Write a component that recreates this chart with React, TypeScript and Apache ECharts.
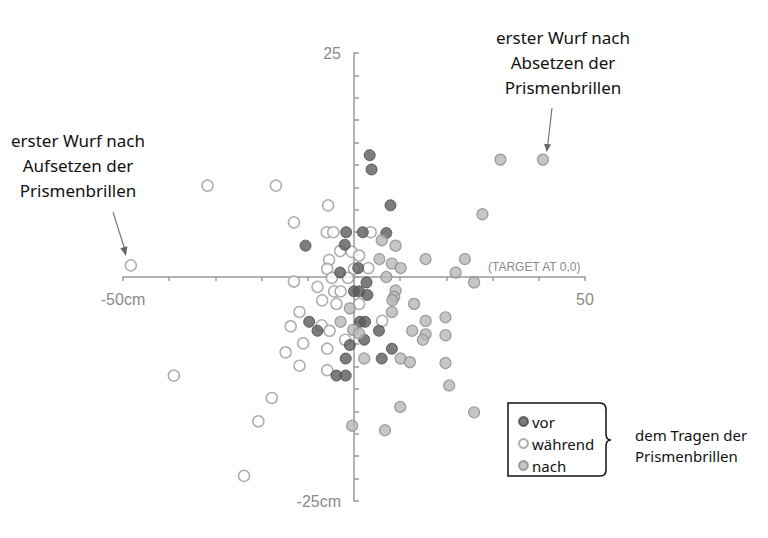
import React, { useEffect, useRef } from "react";
import * as echarts from "echarts";

// Data (x in cm, y in cm), target at 0,0
const vorData: [number, number][] = [
  [-10.5, 3.5], [-1.7, 5.0], [1.9, 5.0], [7.0, 4.9], [3.4, 13.6], [3.8, 12.0],
  [7.9, 8.0], [-2.0, 3.6], [0.9, 1.0], [-3.0, 0.5], [2.7, -0.6], [0.0, -1.6],
  [1.1, -1.6], [2.9, -2.0], [-9.7, -5.0], [1.3, -5.0], [2.4, -5.0], [-7.9, -6.0],
  [5.4, -6.0], [2.2, -7.0], [-0.9, -7.6], [-1.8, -9.1], [6.0, -9.1], [8.2, -8.0],
  [-3.8, -11.0], [-1.8, -11.0],
];

const waehrendData: [number, number][] = [
  [-48.3, 1.3], [-31.7, 10.2], [-16.9, 10.2], [-5.6, 8.0], [-13.0, 6.1],
  [-5.9, 5.0], [-4.5, 5.0], [3.6, 5.0], [-3.0, 2.9], [-0.5, 2.8], [1.1, 2.4],
  [-5.4, 1.9], [-5.8, 0.9], [0.0, 0.9], [3.1, 1.0], [-13.0, -0.5], [-4.8, -0.1],
  [-1.3, -0.1], [-7.9, -1.1], [-4.3, -1.6], [-2.9, -1.6], [-6.9, -2.6],
  [-3.8, -3.0], [1.1, -3.0], [-11.8, -3.9], [-13.7, -5.5], [-7.0, -5.4],
  [6.1, -4.9], [-5.3, -6.0], [-1.9, -7.0], [-11.0, -7.4], [-14.8, -8.4],
  [-5.8, -8.0], [-11.8, -9.9], [-5.8, -10.4], [-39.0, -11.0], [-17.8, -13.5],
  [-20.7, -16.1], [-23.8, -22.2],
];

const nachData: [number, number][] = [
  [31.7, 13.1], [40.9, 13.1], [27.8, 7.0], [6.0, 4.1], [9.0, 3.5], [5.5, 2.0],
  [8.2, 1.5], [10.1, 1.0], [15.5, 2.0], [24.0, 2.0], [22.0, 0.5], [26.0, -0.6],
  [7.0, 0.0], [9.0, -1.5], [8.7, -2.2], [8.3, -2.6], [13.0, -3.0], [-0.9, -3.5],
  [8.2, -3.9], [-2.9, -5.0], [-0.2, -5.9], [1.1, -6.3], [12.6, -6.0], [15.5, -4.9],
  [19.8, -4.5], [15.5, -6.4], [14.9, -7.0], [19.8, -6.5], [2.2, -9.1], [10.1, -9.1],
  [12.1, -9.5], [19.8, -9.6], [20.6, -12.1], [10.0, -14.5], [26.0, -15.1],
  [-0.4, -16.6], [6.7, -17.1],
];

const seriesNames = ["vor", "während", "nach"];
const xTickValues = [-50, 50];
const xTickLabels = ["-50cm", "50"];
const yTickValues = [25, -25];
const yTickLabels = ["25", "-25cm"];

const leftNote = ["erster Wurf nach", "Aufsetzen der", "Prismenbrillen"];
const rightNote = ["erster Wurf nach", "Absetzen der", "Prismenbrillen"];
const legendNote = ["dem Tragen der", "Prismenbrillen"];
const targetLabel = "(TARGET AT 0,0)";

const bracePath =
  "M 508 403 L 600 403 Q 606 403 606 410 L 606 434 Q 606 440 611 440 Q 606 440 606 446 L 606 470 Q 606 476 600 476 L 508 476 Z";

let registered = false;

export default function App() {
  const ref = useRef<HTMLDivElement>(null);
  useEffect(() => {
    if (!ref.current) return;
    if (!registered) {
      echarts.graphic.registerShape("brace", echarts.graphic.extendPath(bracePath, {}) as any);
      registered = true;
    }
    const chart = echarts.init(ref.current, null, { renderer: "svg" });
    const axisColor = "#9a9a9a";
    const font = "'Noto Sans', sans-serif";
    const labelFont = "'Liberation Sans', Arial, sans-serif";
    const noteStyle = { fontSize: 17, fontFamily: font, fill: "#111", align: "center" as const, lineHeight: 25 };
    chart.setOption({
      animation: false,
      grid: { left: 123, right: 183, top: 53, bottom: 37, containLabel: false },
      xAxis: {
        type: "value", min: -50, max: 50, interval: 10,
        splitLine: { show: false },
        axisLine: { onZero: true, lineStyle: { color: axisColor, width: 1.5 } },
        axisTick: { show: true, length: 4, lineStyle: { color: axisColor, width: 1.5 } },
        axisLabel: { show: false },
      },
      yAxis: {
        type: "value", min: -25, max: 25, interval: 2.5,
        splitLine: { show: false },
        axisLine: { onZero: true, lineStyle: { color: axisColor, width: 1.5 } },
        axisTick: { show: true, inside: true, length: 5, lineStyle: { color: axisColor, width: 1.5 } },
        axisLabel: { show: false },
      },
      legend: {
        orient: "vertical", left: 513, top: 409, itemWidth: 9, itemHeight: 9, itemGap: 7,
        icon: "circle",
        textStyle: { fontSize: 15, color: "#111", fontFamily: font, padding: [0, 0, 0, -1] },
        data: seriesNames,
      },
      series: [
        {
          name: seriesNames[1], type: "scatter", data: waehrendData, symbolSize: 11,
          itemStyle: { color: "#ffffff", borderColor: "#9a9a9a", borderWidth: 1.5 },
        },
        {
          name: seriesNames[0], type: "scatter", data: vorData, symbolSize: 11,
          itemStyle: { color: "#5b5b5b", borderColor: "#4a4a4a", borderWidth: 1 },
        },
        {
          name: seriesNames[2], type: "scatter", data: nachData, symbolSize: 11,
          itemStyle: { color: "#b8b8b8", borderColor: "#8c8c8c", borderWidth: 1.2 },
        },
      ],
    });

    // axis end labels positioned from the library's own scales
    const tickTexts: any[] = [];
    xTickValues.forEach((v, i) => {
      const p = chart.convertToPixel({ gridIndex: 0 }, [v, 0]) as number[];
      tickTexts.push({
        type: "text", x: p[0], y: p[1] + 14,
        style: { text: xTickLabels[i], fontSize: 16, fill: "#8a8a8a", fontFamily: labelFont, align: "center", verticalAlign: "top" },
      });
    });
    yTickValues.forEach((v, i) => {
      const p = chart.convertToPixel({ gridIndex: 0 }, [0, v]) as number[];
      tickTexts.push({
        type: "text", x: p[0] - 13, y: p[1],
        style: { text: yTickLabels[i], fontSize: 16, fill: "#8a8a8a", fontFamily: labelFont, align: "right", verticalAlign: "middle" },
      });
    });
    const origin = chart.convertToPixel({ gridIndex: 0 }, [0, 0]) as number[];

    chart.setOption({
      graphic: [
        ...tickTexts,
        { type: "text", x: 488, y: origin[1] - 10, style: { text: targetLabel, fontSize: 12, fill: "#8a8a8a", fontFamily: labelFont, verticalAlign: "middle" } },
        { type: "text", x: 78, y: 128, style: { ...noteStyle, text: leftNote.join("\n") } },
        { type: "text", x: 563, y: 25, style: { ...noteStyle, text: rightNote.join("\n") } },
        { type: "text", x: 635, y: 424, style: { fontSize: 15, fontFamily: font, fill: "#111", lineHeight: 21, text: legendNote.join("\n") } },
        { type: "line", shape: { x1: 113, y1: 212, x2: 125, y2: 250 }, style: { stroke: "#777", lineWidth: 1.2 } },
        { type: "polygon", shape: { points: [[126, 256], [127.4, 246.3], [120.4, 248.3]] }, style: { fill: "#666" } },
        { type: "line", shape: { x1: 552, y1: 108, x2: 547.6, y2: 146 }, style: { stroke: "#777", lineWidth: 1.2 } },
        { type: "polygon", shape: { points: [[546.7, 152], [551.1, 144.5], [544.1, 143.7]] }, style: { fill: "#666" } },
        { type: "brace", x: 0, y: 0, style: { fill: "none", stroke: "#111", lineWidth: 1.5 } },
      ],
    });
    return () => chart.dispose();
  }, []);
  return <div ref={ref} style={{ position: "fixed", left: 0, top: 0, width: 768, height: 538, background: "#fff" }} />;
}
